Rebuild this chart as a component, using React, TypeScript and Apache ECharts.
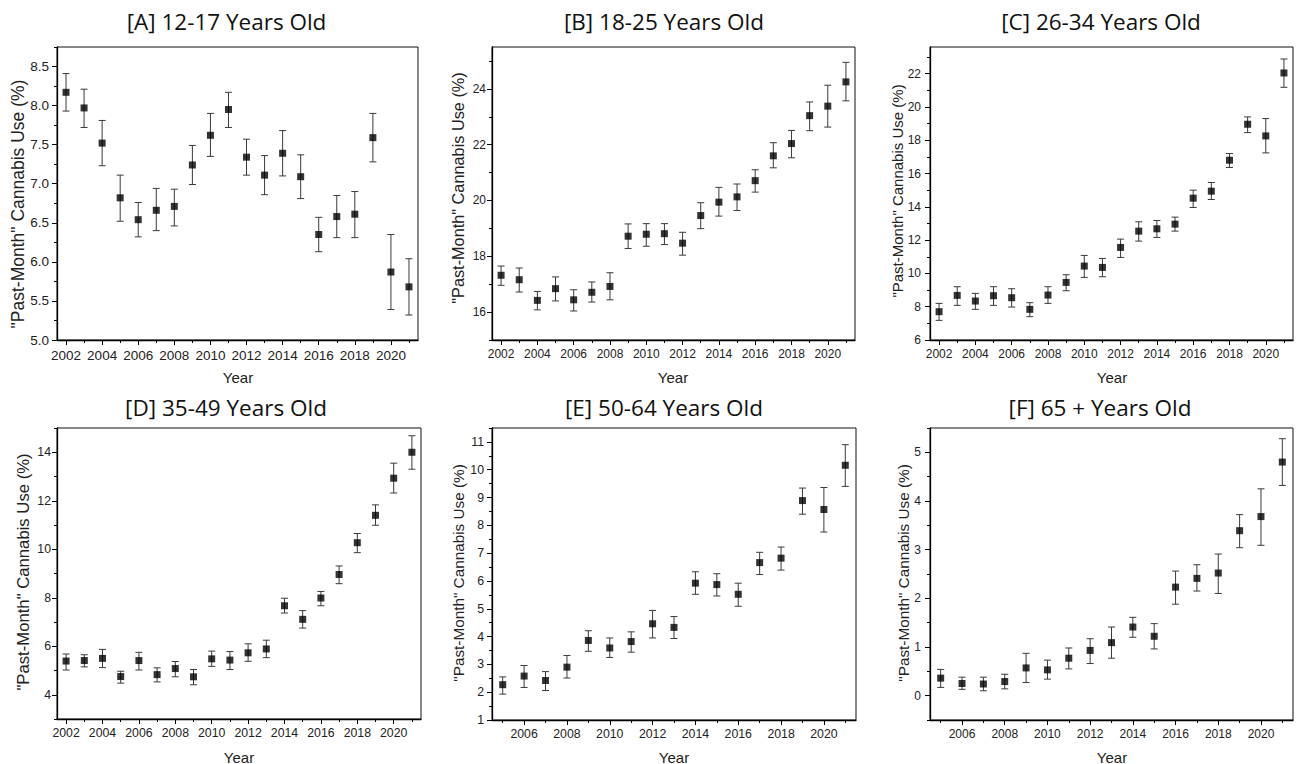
import React, { useEffect, useRef } from "react";
import * as echarts from "echarts";

// ---------- data ----------
const yearsFull = [2002, 2003, 2004, 2005, 2006, 2007, 2008, 2009, 2010, 2011, 2012, 2013, 2014, 2015, 2016, 2017, 2018, 2019, 2020, 2021];
const yearsLate = [2005, 2006, 2007, 2008, 2009, 2010, 2011, 2012, 2013, 2014, 2015, 2016, 2017, 2018, 2019, 2020, 2021];

const aMean = [8.17, 7.97, 7.52, 6.82, 6.54, 6.66, 6.71, 7.24, 7.62, 7.95, 7.34, 7.11, 7.39, 7.09, 6.35, 6.58, 6.61, 7.59, 5.87, 5.68];
const aLow = [7.93, 7.72, 7.23, 6.52, 6.32, 6.40, 6.46, 6.99, 7.35, 7.72, 7.11, 6.86, 7.10, 6.81, 6.13, 6.31, 6.31, 7.28, 5.39, 5.32];
const aHigh = [8.41, 8.21, 7.81, 7.11, 6.76, 6.94, 6.93, 7.49, 7.90, 8.17, 7.57, 7.36, 7.68, 7.37, 6.57, 6.85, 6.90, 7.90, 6.35, 6.04];

const bMean = [17.32, 17.16, 16.42, 16.84, 16.44, 16.71, 16.92, 18.72, 18.79, 18.81, 18.47, 19.46, 19.94, 20.13, 20.71, 21.6, 22.04, 23.04, 23.38, 24.25];
const bLow = [16.96, 16.72, 16.08, 16.4, 16.04, 16.36, 16.44, 18.28, 18.36, 18.42, 18.04, 18.99, 19.44, 19.64, 20.3, 21.17, 21.53, 22.5, 22.63, 23.57];
const bHigh = [17.65, 17.58, 16.74, 17.26, 16.8, 17.08, 17.41, 19.16, 19.17, 19.17, 18.86, 19.92, 20.47, 20.59, 21.1, 22.07, 22.51, 23.53, 24.13, 24.95];

const cMean = [7.7, 8.68, 8.34, 8.66, 8.54, 7.84, 8.7, 9.46, 10.44, 10.36, 11.56, 12.54, 12.68, 12.96, 14.52, 14.94, 16.8, 18.96, 18.26, 22.04];
const cLow = [7.18, 8.08, 7.84, 8.08, 7.98, 7.4, 8.2, 8.96, 9.76, 9.8, 10.96, 11.94, 12.16, 12.54, 13.96, 14.44, 16.36, 18.46, 17.24, 21.18];
const cHigh = [8.2, 9.2, 8.8, 9.2, 9.08, 8.24, 9.2, 9.92, 11.08, 10.9, 12.06, 13.1, 13.18, 13.38, 15.0, 15.46, 17.2, 19.4, 19.3, 22.88];

const dMean = [5.39, 5.41, 5.5, 4.75, 5.41, 4.83, 5.08, 4.74, 5.48, 5.43, 5.73, 5.89, 7.67, 7.11, 7.99, 8.96, 10.27, 11.4, 12.93, 14.0];
const dLow = [5.02, 5.15, 5.12, 4.48, 5.02, 4.53, 4.74, 4.41, 5.17, 5.04, 5.38, 5.53, 7.37, 6.75, 7.67, 8.58, 9.86, 10.99, 12.32, 13.3];
const dHigh = [5.68, 5.65, 5.87, 4.97, 5.75, 5.11, 5.37, 5.04, 5.8, 5.78, 6.1, 6.25, 7.98, 7.47, 8.26, 9.31, 10.65, 11.83, 13.55, 14.68];

const eMean = [2.27, 2.58, 2.42, 2.9, 3.86, 3.59, 3.82, 4.46, 4.33, 5.92, 5.87, 5.52, 6.66, 6.82, 8.89, 8.57, 10.16];
const eLow = [1.93, 2.17, 2.06, 2.51, 3.47, 3.25, 3.44, 3.95, 3.93, 5.52, 5.46, 5.09, 6.23, 6.39, 8.4, 7.76, 9.4];
const eHigh = [2.55, 2.96, 2.74, 3.32, 4.21, 3.95, 4.17, 4.94, 4.72, 6.33, 6.26, 5.92, 7.03, 7.22, 9.34, 9.36, 10.9];

const fMean = [0.36, 0.25, 0.24, 0.29, 0.57, 0.53, 0.77, 0.93, 1.09, 1.41, 1.22, 2.23, 2.41, 2.52, 3.39, 3.68, 4.8];
const fLow = [0.17, 0.13, 0.1, 0.14, 0.27, 0.34, 0.55, 0.66, 0.77, 1.2, 0.96, 1.88, 2.15, 2.1, 3.04, 3.09, 4.32];
const fHigh = [0.54, 0.38, 0.38, 0.44, 0.87, 0.73, 0.98, 1.17, 1.41, 1.61, 1.48, 2.56, 2.69, 2.91, 3.72, 4.25, 5.28];

// ---------- tick values ----------
const xMajorFull = [2002, 2004, 2006, 2008, 2010, 2012, 2014, 2016, 2018, 2020];
const xMinorFull = [2003, 2005, 2007, 2009, 2011, 2013, 2015, 2017, 2019, 2021];
const xMajorLate = [2006, 2008, 2010, 2012, 2014, 2016, 2018, 2020];
const xMinorLate = [2005, 2007, 2009, 2011, 2013, 2015, 2017, 2019, 2021];

const aYMajor = [5.0, 5.5, 6.0, 6.5, 7.0, 7.5, 8.0, 8.5];
const aYMinor = [5.25, 5.75, 6.25, 6.75, 7.25, 7.75, 8.25, 8.75];
const bYMajor = [16, 18, 20, 22, 24];
const bYMinor = [15, 17, 19, 21, 23, 25];
const cYMajor = [6, 8, 10, 12, 14, 16, 18, 20, 22];
const cYMinor = [7, 9, 11, 13, 15, 17, 19, 21, 23];
const dYMajor = [4, 6, 8, 10, 12, 14];
const dYMinor = [3, 5, 7, 9, 11, 13, 15];
const eYMajor = [1, 2, 3, 4, 5, 6, 7, 8, 9, 10, 11];
const eYMinor = [1.5, 2.5, 3.5, 4.5, 5.5, 6.5, 7.5, 8.5, 9.5, 10.5, 11.5];
const fYMajor = [0, 1, 2, 3, 4, 5];
const fYMinor = [-0.5, 0.5, 1.5, 2.5, 3.5, 4.5, 5.5];

const titles = ["[A] 12-17 Years Old", "[B] 18-25 Years Old", "[C] 26-34 Years Old", "[D] 35-49 Years Old", "[E] 50-64 Years Old", "[F] 65 + Years Old"];
const yTitle = '"Past-Month" Cannabis Use (%)';
const xTitle = "Year";

const ARIAL = "'Liberation Sans', Arial, sans-serif";
const TITLE_FONT = "'Open Sans', 'Noto Sans', sans-serif";

const panels = [
  { years: yearsFull, mean: aMean, low: aLow, high: aHigh, yMin: 5, yMax: 8.75, yMajor: aYMajor, yMinor: aYMinor, xMin: 2001.5, xMax: 2021.5, xMajor: xMajorFull, xMinor: xMinorFull, dec: 1,
    grid: { left: 57, top: 47, width: 361, height: 293 }, tX: 226.5, tY: 21, nX: 18, nY: 204, nSize: 17.5, fs: 13.5, yrX: 238, yrY: 377, yMargin: 8 },
  { years: yearsFull, mean: bMean, low: bLow, high: bHigh, yMin: 15, yMax: 25.5, yMajor: bYMajor, yMinor: bYMinor, xMin: 2001.5, xMax: 2021.5, xMajor: xMajorFull, xMinor: xMinorFull, dec: 0,
    grid: { left: 492, top: 47, width: 363, height: 293 }, tX: 664, tY: 21, nX: 458, nY: 188, nSize: 16.3, fs: 12, yrX: 673, yrY: 377, yMargin: 6 },
  { years: yearsFull, mean: cMean, low: cLow, high: cHigh, yMin: 6, yMax: 23.6, yMajor: cYMajor, yMinor: cYMinor, xMin: 2001.5, xMax: 2021.5, xMajor: xMajorFull, xMinor: xMinorFull, dec: 0,
    grid: { left: 930, top: 47, width: 363, height: 293 }, tX: 1101, tY: 21, nX: 897, nY: 191, nSize: 15, fs: 12, yrX: 1112, yrY: 377, yMargin: 9 },
  { years: yearsFull, mean: dMean, low: dLow, high: dHigh, yMin: 3, yMax: 15, yMajor: dYMajor, yMinor: dYMinor, xMin: 2001.5, xMax: 2021.5, xMajor: xMajorFull, xMinor: xMinorFull, dec: 0,
    grid: { left: 57, top: 428, width: 364, height: 291 }, tX: 226, tY: 407.5, nX: 23, nY: 572, nSize: 16.7, fs: 12.3, yrX: 239, yrY: 757, yMargin: 6 },
  { years: yearsLate, mean: eMean, low: eLow, high: eHigh, yMin: 1, yMax: 11.5, yMajor: eYMajor, yMinor: eYMinor, xMin: 2004.5, xMax: 2021.5, xMajor: xMajorLate, xMinor: xMinorLate, dec: 0,
    grid: { left: 492, top: 428, width: 364, height: 292 }, tX: 664, tY: 407.5, nX: 458, nY: 573, nSize: 15.3, fs: 12.3, yrX: 674, yrY: 757, yMargin: 8 },
  { years: yearsLate, mean: fMean, low: fLow, high: fHigh, yMin: -0.5, yMax: 5.5, yMajor: fYMajor, yMinor: fYMinor, xMin: 2004.5, xMax: 2021.5, xMajor: xMajorLate, xMinor: xMinorLate, dec: 0,
    grid: { left: 930, top: 428, width: 363, height: 292 }, tX: 1100, tY: 407.5, nX: 903, nY: 573, nSize: 15.3, fs: 12, yrX: 1112, yrY: 757, yMargin: 9 },
];

function buildOption() {
  const grid: any[] = [];
  const xAxis: any[] = [];
  const yAxis: any[] = [];
  const series: any[] = [];
  const graphic: any[] = [];

  panels.forEach((p, i) => {
    grid.push({ ...p.grid, show: true, borderColor: "#111", borderWidth: 1, backgroundColor: "transparent", containLabel: false });
    // main x
    xAxis.push({
      type: "value", gridIndex: i, min: p.xMin, max: p.xMax, position: "bottom",
      axisLine: { show: true, onZero: false, lineStyle: { color: "#000", width: 1.3 } },
      axisTick: { show: true, inside: false, length: 5, customValues: p.xMajor, lineStyle: { color: "#000", width: 1 } },
      axisLabel: { show: true, margin: 8, customValues: p.xMajor, color: "#222", fontSize: p.fs, fontFamily: ARIAL, formatter: (v: number) => String(v) },
      splitLine: { show: false },
    });
    // minor x
    xAxis.push({
      type: "value", gridIndex: i, min: p.xMin, max: p.xMax, position: "bottom",
      axisLine: { show: false, onZero: false },
      axisTick: { show: true, inside: false, length: 3, customValues: p.xMinor, lineStyle: { color: "#000", width: 1 } },
      axisLabel: { show: false },
      splitLine: { show: false },
    });
    yAxis.push({
      type: "value", gridIndex: i, min: p.yMin, max: p.yMax, position: "left",
      axisLine: { show: true, onZero: false, lineStyle: { color: "#000", width: 1.3 } },
      axisTick: { show: true, inside: false, length: 5, customValues: p.yMajor, lineStyle: { color: "#000", width: 1 } },
      axisLabel: { show: true, margin: p.yMargin, customValues: p.yMajor, color: "#222", fontSize: p.fs, fontFamily: ARIAL,
        formatter: (v: number) => v.toFixed(p.dec) },
      splitLine: { show: false },
    });
    yAxis.push({
      type: "value", gridIndex: i, min: p.yMin, max: p.yMax, position: "left",
      axisLine: { show: false, onZero: false },
      axisTick: { show: true, inside: false, length: 3, customValues: p.yMinor, lineStyle: { color: "#000", width: 1 } },
      axisLabel: { show: false },
      splitLine: { show: false },
    });

    const errData = p.years.map((y, k) => [y, p.low[k], p.high[k]]);
    const ptData = p.years.map((y, k) => [y, p.mean[k]]);

    series.push({
      type: "custom",
      xAxisIndex: 2 * i,
      yAxisIndex: 2 * i,
      data: errData,
      encode: { x: 0, y: [1, 2] },
      z: 2,
      silent: true,
      renderItem: (params: any, api: any) => {
        const x = api.value(0);
        const pLo = api.coord([x, api.value(1)]);
        const pHi = api.coord([x, api.value(2)]);
        const cap = 3.5;
        const style = { stroke: "#3a3a3a", lineWidth: 1, fill: null };
        return {
          type: "group",
          children: [
            { type: "line", shape: { x1: pLo[0], y1: pLo[1], x2: pHi[0], y2: pHi[1] }, style },
            { type: "line", shape: { x1: pLo[0] - cap, y1: pLo[1], x2: pLo[0] + cap, y2: pLo[1] }, style },
            { type: "line", shape: { x1: pHi[0] - cap, y1: pHi[1], x2: pHi[0] + cap, y2: pHi[1] }, style },
          ],
        };
      },
    });
    series.push({
      type: "scatter",
      xAxisIndex: 2 * i,
      yAxisIndex: 2 * i,
      data: ptData,
      symbol: "rect",
      symbolSize: 7,
      itemStyle: { color: "#000" },
      z: 3,
      silent: true,
    });

    graphic.push({
      type: "text", x: p.tX, y: p.tY,
      style: { text: titles[i], font: `22.5px ${TITLE_FONT}`, fill: "#111", align: "center", verticalAlign: "middle" },
    });
    graphic.push({
      type: "text", x: p.nX, y: p.nY, rotation: Math.PI / 2,
      style: { text: yTitle, font: `${p.nSize}px ${ARIAL}`, fill: "#222", align: "center", verticalAlign: "middle" },
    });
    graphic.push({
      type: "text", x: p.yrX, y: p.yrY,
      style: { text: xTitle, font: `15px ${ARIAL}`, fill: "#222", align: "center", verticalAlign: "middle" },
    });
  });

  return {
    animation: false,
    backgroundColor: "#ffffff",
    grid,
    xAxis,
    yAxis,
    series,
    graphic,
  };
}

export default function App() {
  const ref = useRef<HTMLDivElement>(null);
  useEffect(() => {
    document.body.style.margin = "0";
    if (!ref.current) return;
    const chart = echarts.init(ref.current, undefined, { renderer: "svg" });
    chart.setOption(buildOption() as any);
    return () => {
      chart.dispose();
    };
  }, []);
  return <div ref={ref} style={{ width: 1298, height: 764 }} />;
}
